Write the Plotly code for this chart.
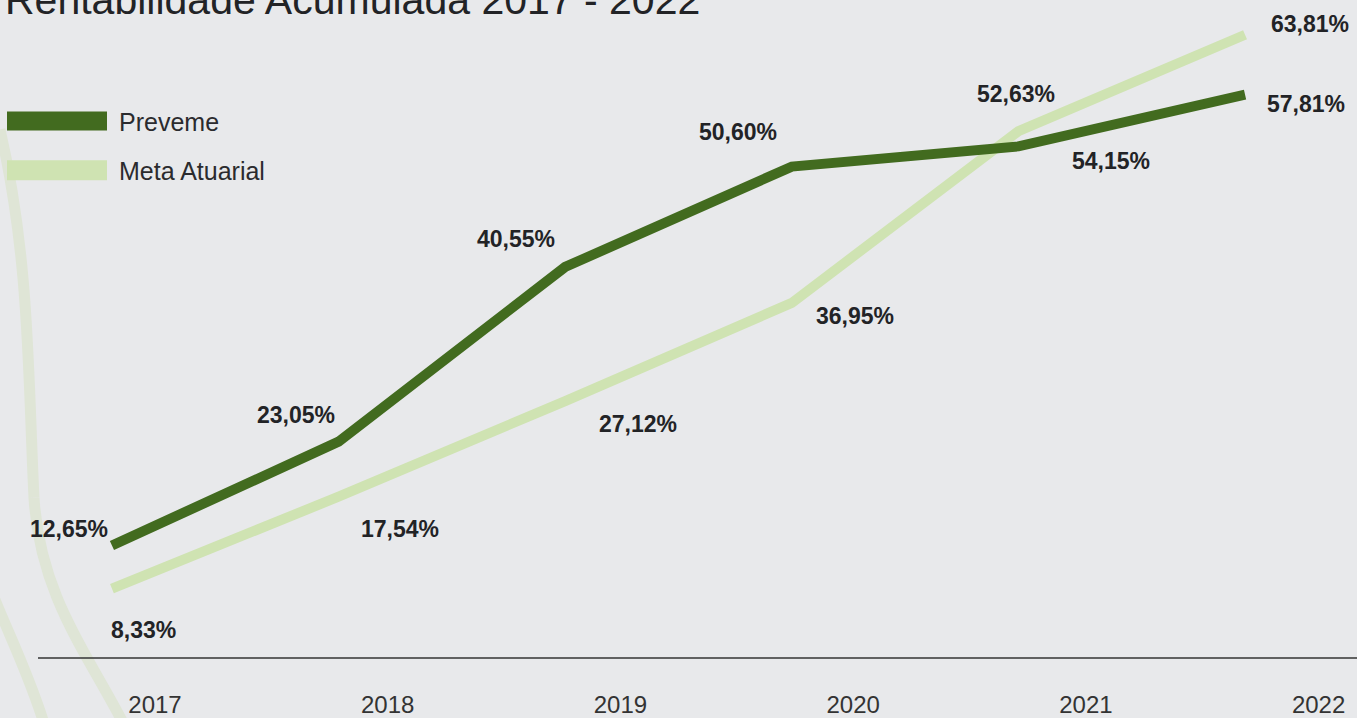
import plotly.graph_objects as go

# ---------------- data ----------------
years = [2017, 2018, 2019, 2020, 2021, 2022]
year_labels = ["2017", "2018", "2019", "2020", "2021", "2022"]
preveme = [12.65, 23.05, 40.55, 50.60, 52.63, 57.81]
meta_atuarial = [8.33, 17.54, 27.12, 36.95, 54.15, 63.81]
series_names = ["Preveme", "Meta Atuarial"]
title_text = "Rentabilidade Acumulada 2017 - 2022"

# ---------------- style ----------------
BG = "#e8e9eb"
DARK = "#426b1f"
LIGHT = "#cfe3b2"
TEXT = "#222326"
ARC = "#dfe5d6"
SANS = "'Liberation Sans', Arial, sans-serif"

def fmt(v):
    return f"{v:.2f}".replace(".", ",") + "%"

# label offsets (pixels) relative to each point
prev_off = [(-43, 16), (-43, 27), (-49, 28), (-54, 35), (-2, 52), (61, -9)]
meta_off = [(32, -41), (61, -32), (73, -23), (63, -13), (93, -30), (65, 11)]

fig = go.Figure()

fig.add_trace(go.Scatter(x=years, y=meta_atuarial, mode="lines", name=series_names[1],
                         line=dict(color=LIGHT, width=10), showlegend=False,
                         hoverinfo="skip", cliponaxis=False))
fig.add_trace(go.Scatter(x=years, y=preveme, mode="lines", name=series_names[0],
                         line=dict(color=DARK, width=10), showlegend=False,
                         hoverinfo="skip", cliponaxis=False))
# invisible trace to carry the year-label axis
fig.add_trace(go.Scatter(x=years, y=[None] * len(years), xaxis="x2", mode="lines",
                         showlegend=False, hoverinfo="skip"))

label_font = dict(family=SANS, size=23, color=TEXT, weight="bold")
annotations = []
for xv, yv, (dx, dy) in zip(years, preveme, prev_off):
    annotations.append(dict(x=xv, y=yv, xref="x", yref="y", text=fmt(yv), showarrow=False,
                            xshift=dx, yshift=dy, font=label_font))
for xv, yv, (dx, dy) in zip(years, meta_atuarial, meta_off):
    annotations.append(dict(x=xv, y=yv, xref="x", yref="y", text=fmt(yv), showarrow=False,
                            xshift=dx, yshift=dy, font=label_font))

# title (cut off at the top like the reference)
annotations.append(dict(x=0, y=1, xref="paper", yref="paper", xanchor="left", yanchor="bottom",
                        text=title_text, showarrow=False, xshift=3, yshift=-25,
                        font=dict(family=SANS, size=41, color=TEXT)))

# legend texts
H = 661.0  # plot height in px
W = 1357.0
for name, yc in zip(series_names, [123, 172]):
    annotations.append(dict(x=117 / W, y=1 - yc / H, xref="paper", yref="paper",
                            xanchor="left", yanchor="middle", text=name, showarrow=False,
                            font=dict(family=SANS, size=25, color="#2b2b2e")))

shapes = []
# legend swatches
for col, (y0, y1) in zip([DARK, LIGHT], [(112, 131), (161, 181)]):
    shapes.append(dict(type="rect", xref="paper", yref="paper",
                       x0=7 / W, x1=107 / W, y0=1 - y1 / H, y1=1 - y0 / H,
                       fillcolor=col, line=dict(width=0), layer="above"))

# decorative faint arcs on the left
def pth(points):
    s = ""
    for i, (px, py) in enumerate(points):
        s += ("M" if i == 0 else ("C" if i == 1 else " ")) + f"{px / W:.5f},{1 - py / H:.5f}"
    return s

shapes.append(dict(type="path", xref="paper", yref="paper", layer="below",
                   path=pth([(0, 130), (30, 260), (28, 380), (34, 500)]),
                   line=dict(color=ARC, width=11)))
shapes.append(dict(type="path", xref="paper", yref="paper", layer="below",
                   path=pth([(34, 500), (40, 600), (90, 660), (125, 730)]),
                   line=dict(color=ARC, width=11)))
shapes.append(dict(type="path", xref="paper", yref="paper", layer="below",
                   path=pth([(-6, 600), (10, 640), (30, 680), (45, 730)]),
                   line=dict(color=ARC, width=11)))
# baseline
shapes.append(dict(type="line", xref="paper", yref="paper", x0=38 / W, x1=1, y0=0, y1=0,
                   line=dict(color="#333333", width=1.5), layer="above"))

fig.update_layout(
    width=1357, height=718,
    margin=dict(l=0, r=0, t=0, b=57),
    paper_bgcolor=BG, plot_bgcolor=BG,
    showlegend=False,
    xaxis=dict(range=[2016.506, 2022.494], visible=False, fixedrange=True),
    xaxis2=dict(range=[2016.334, 2022.165], overlaying="x", anchor="y", side="bottom",
                tickmode="array", tickvals=years, ticktext=year_labels,
                ticks="", showgrid=False, zeroline=False, showline=False,
                ticklabelstandoff=30,
                tickfont=dict(family=SANS, size=24, color="#333333")),
    yaxis=dict(range=[1.38, 67.29], visible=False, fixedrange=True),
    annotations=annotations,
    shapes=shapes,
)

fig.write_html("out.html", config={"displayModeBar": False},
               post_script="document.body.style.margin='0';document.body.style.overflow='hidden';")
